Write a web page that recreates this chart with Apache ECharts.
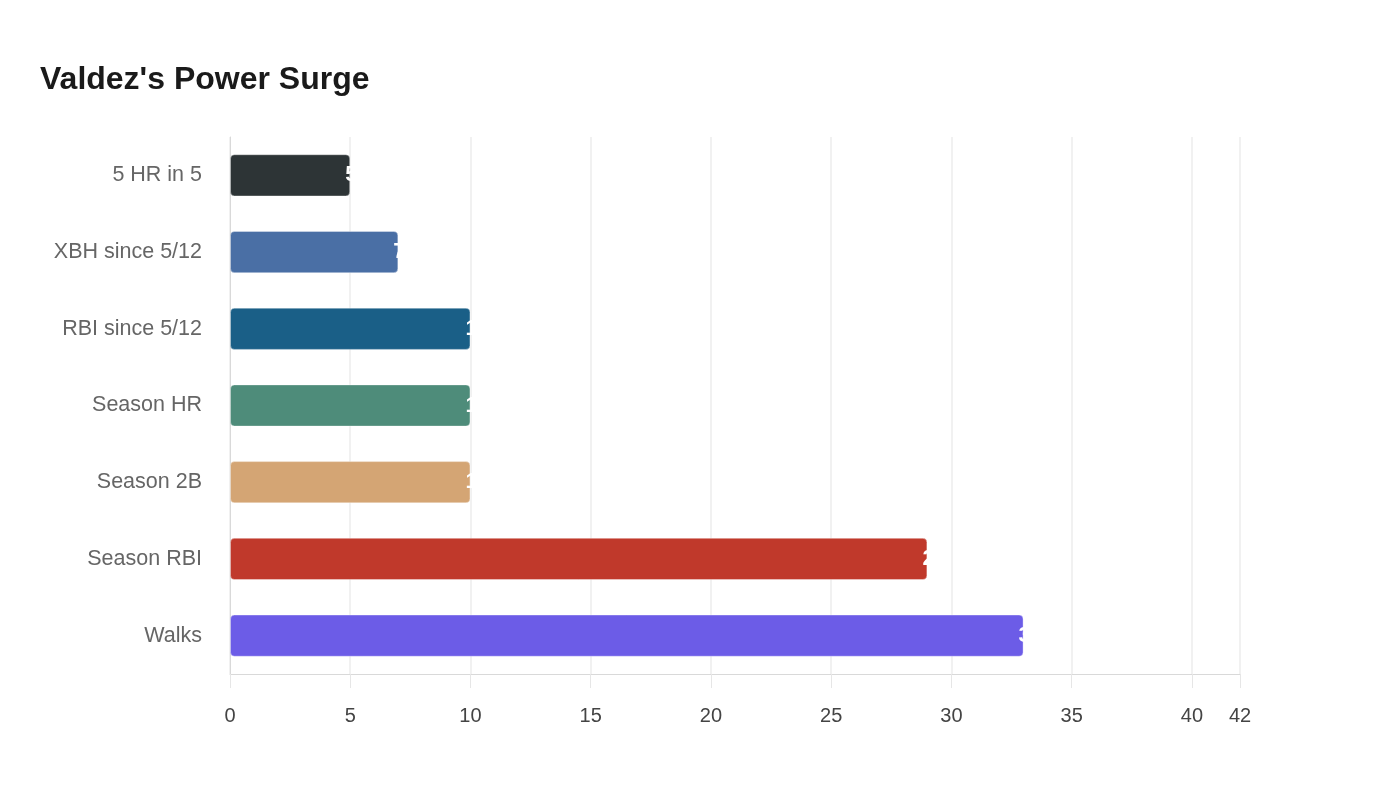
<!DOCTYPE html>
<html>
<head>
<meta charset="utf-8">
<script src="https://cdn.jsdelivr.net/npm/echarts@6/dist/echarts.min.js"></script>
<style>
  html, body { margin: 0; padding: 0; background: #fff; }
  #chart { width: 1400px; height: 800px; }
</style>
</head>
<body>
<div id="chart"></div>
<script>
    // chart data
    let categories = ['5 HR in 5', 'XBH since 5/12', 'RBI since 5/12', 'Season HR', 'Season 2B', 'Season RBI', 'Walks'];
    let values = [5, 7, 10, 10, 10, 29, 33];
    let barColors = ['#2d3436', '#4a6fa5', '#1a5f87', '#4e8c7a', '#d4a574', '#c0392b', '#6c5ce7'];

    let chartDom = document.getElementById('chart');
    let myChart = echarts.init(chartDom);

    let seriesData = [];
    for (let index = 0; index < values.length; index++) {
        seriesData.push({
            value: values[index],
            itemStyle: { color: barColors[index] }
        });
    }

    let option = {
        title: {
            text: "Valdez's Power Surge",
            left: 35,
            top: 59,
            textStyle: {
                fontFamily: 'Liberation Sans',
                fontSize: 32,
                fontWeight: 'bold',
                color: '#1a1a1a'
            }
        },
        grid: {
            left: 230,
            right: 160,
            top: 137,
            bottom: 126
        },
        xAxis: {
            type: 'value',
            min: 0,
            max: 42,
            interval: 5,
            axisLine: { show: true, lineStyle: { color: '#d9d9d9' } },
            axisTick: { show: true, length: 14, lineStyle: { color: '#e6e6e6' } },
            splitLine: { show: true, lineStyle: { color: '#ececec', width: 1.5 } },
            axisLabel: {
                margin: 32,
                fontFamily: 'Liberation Sans',
                fontSize: 20,
                color: '#444'
            }
        },
        yAxis: {
            type: 'category',
            data: categories,
            inverse: true,
            axisLine: { show: true, lineStyle: { color: '#d9d9d9' } },
            axisTick: { show: false },
            axisLabel: {
                margin: 28,
                fontFamily: 'Liberation Sans',
                fontSize: 21.5,
                color: '#666',
                padding: [4, 0, 0, 0]
            }
        },
        series: [
            {
                type: 'bar',
                data: seriesData,
                barWidth: '55%',
                itemStyle: {
                    borderRadius: 4,
                    borderColor: 'rgba(255,255,255,0.35)',
                    borderWidth: 1
                },
                label: {
                    show: true,
                    position: 'right',
                    offset: [-10, 0],
                    fontFamily: 'Liberation Sans',
                    fontSize: 22,
                    fontWeight: 'bold',
                    color: '#fff'
                }
            }
        ]
    };

    myChart.setOption(option);
</script>
</body>
</html>
